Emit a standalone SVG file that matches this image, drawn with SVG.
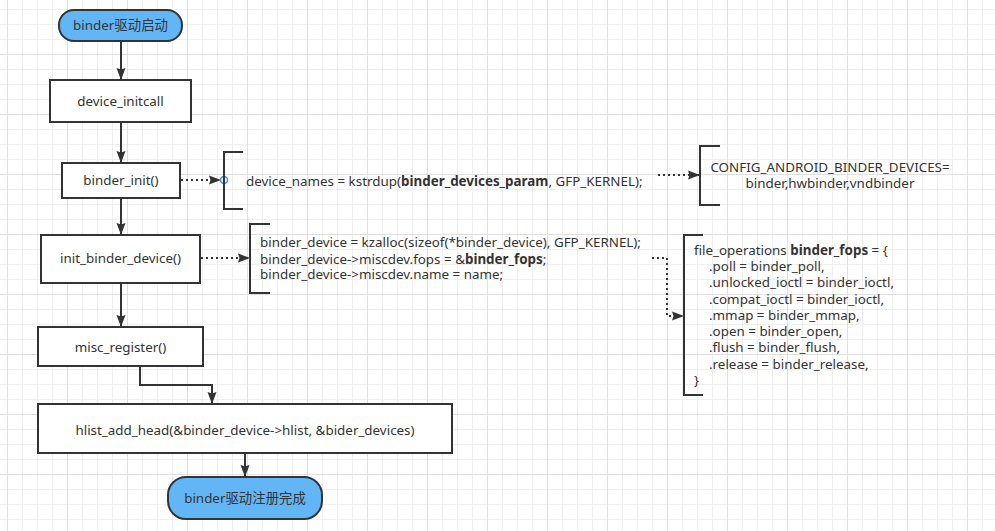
<svg xmlns="http://www.w3.org/2000/svg" width="995" height="531" viewBox="0 0 995 531">
<style>
  text { font-family: "Noto Sans", "Noto Sans CJK SC", sans-serif; font-size: 13.4px; fill: #333; }
  .c { text-anchor: middle; }
  .b { font-weight: bold; }
  .box { fill: #fff; stroke: #333; stroke-width: 2; }
  .term { fill: #63b6f6; stroke: #333; stroke-width: 2; }
  .line { fill: none; stroke: #333; stroke-width: 2; }
  .dot { fill: none; stroke: #333; stroke-width: 2; stroke-dasharray: 2 3; }
  .brk { fill: none; stroke: #333; stroke-width: 2; }
</style>
<defs>
  <pattern id="grid" x="7" y="54" width="60" height="60" patternUnits="userSpaceOnUse">
    <rect x="0" y="0" width="1" height="60" fill="#efefef"/>
    <rect x="15" y="0" width="1" height="60" fill="#efefef"/>
    <rect x="30" y="0" width="1" height="60" fill="#efefef"/>
    <rect x="45" y="0" width="1" height="60" fill="#efefef"/>
    <rect x="0" y="15" width="60" height="1" fill="#efefef"/>
    <rect x="0" y="30" width="60" height="1" fill="#efefef"/>
    <rect x="0" y="45" width="60" height="1" fill="#efefef"/>
    <rect x="0" y="0" width="60" height="1" fill="#e0e0e0"/>
    <rect x="0" y="0" width="1" height="60" fill="#e0e0e0"/>
  </pattern>
  <marker id="arr" viewBox="0 0 12 10" refX="11" refY="5" markerWidth="12" markerHeight="10" markerUnits="userSpaceOnUse" orient="auto">
    <path d="M0,0.5 L12,5 L0,9.5 L1.5,5 Z" fill="#333"/>
  </marker>
</defs>
<rect width="995" height="531" fill="#fff"/>
<rect width="995" height="531" fill="url(#grid)"/>

<g id="connectors">
  <path class="line" d="M121,42 V79" marker-end="url(#arr)"/>
  <path class="line" d="M121,123 V162" marker-end="url(#arr)"/>
  <path class="line" d="M121,199 V234" marker-end="url(#arr)"/>
  <path class="line" d="M121,284 V326" marker-end="url(#arr)"/>
  <path class="line" d="M140,367 V385 H212 V403" marker-end="url(#arr)"/>
  <path class="line" d="M245,454 V476" marker-end="url(#arr)"/>
  <path class="dot" d="M181,180 H220" marker-end="url(#arr)"/>
  <circle cx="224" cy="180" r="3.5" fill="#fff" stroke="#3d8ef0" stroke-width="1.5"/>
  <path class="dot" d="M658,175 H699" marker-end="url(#arr)"/>
  <path class="dot" d="M201,258 H249" marker-end="url(#arr)"/>
  <path class="dot" d="M652,258 H667 V316 H683" marker-end="url(#arr)"/>
</g>

<g id="start">
  <rect class="term" x="59" y="10" width="123" height="31" rx="15"/>
  <text class="c" x="120.5" y="30">binder驱动启动</text>
</g>
<g id="device_initcall">
  <rect class="box" x="50" y="80" width="141" height="42"/>
  <text class="c" x="120.5" y="105.5">device_initcall</text>
</g>
<g id="binder_init">
  <rect class="box" x="62" y="163" width="118" height="35"/>
  <text class="c" x="121" y="185">binder_init()</text>
</g>
<g id="kstrdup">
  <path class="brk" d="M243,152 H224 V209 H243"/>
  <text x="246" y="185.5">device_names = kstrdup(<tspan class="b">binder_devices_param</tspan>, GFP_KERNEL);</text>
</g>
<g id="config">
  <path class="brk" d="M720,146 H700 V205 H720"/>
  <text class="c" x="830" y="171.5">CONFIG_ANDROID_BINDER_DEVICES=</text>
  <text class="c" x="830" y="187.5">binder,hwbinder,vndbinder</text>
</g>
<g id="init_binder_device">
  <rect class="box" x="41" y="235" width="159" height="48"/>
  <text class="c" x="120.5" y="263">init_binder_device()</text>
</g>
<g id="kzalloc">
  <path class="brk" d="M270,224 H250 V293 H270"/>
  <text x="260" y="247">binder_device = kzalloc(sizeof(*binder_device), GFP_KERNEL);</text>
  <text x="260" y="263.5">binder_device-&gt;miscdev.fops = &amp;<tspan class="b">binder_fops</tspan>;</text>
  <text x="260" y="279">binder_device-&gt;miscdev.name = name;</text>
</g>
<g id="binder_fops">
  <path class="brk" d="M703,235 H684 V395 H703"/>
  <text x="694" y="254.5">file_operations <tspan class="b">binder_fops</tspan> = {</text>
  <text x="709" y="271">.poll = binder_poll,</text>
  <text x="709" y="287">.unlocked_ioctl = binder_ioctl,</text>
  <text x="709" y="303.5">.compat_ioctl = binder_ioctl,</text>
  <text x="709" y="319.5">.mmap = binder_mmap,</text>
  <text x="709" y="336">.open = binder_open,</text>
  <text x="709" y="352">.flush = binder_flush,</text>
  <text x="709" y="368.5">.release = binder_release,</text>
  <text x="694" y="384.5">}</text>
</g>
<g id="misc_register">
  <rect class="box" x="38" y="327" width="165" height="39"/>
  <text class="c" x="120.5" y="352">misc_register()</text>
</g>
<g id="hlist_add_head">
  <rect class="box" x="38" y="404" width="414" height="49"/>
  <text class="c" x="245" y="434.5">hlist_add_head(&amp;binder_device-&gt;hlist, &amp;bider_devices)</text>
</g>
<g id="end">
  <rect class="term" x="168" y="477" width="154" height="42" rx="18"/>
  <text class="c" x="245" y="503">binder驱动注册完成</text>
</g>
</svg>
